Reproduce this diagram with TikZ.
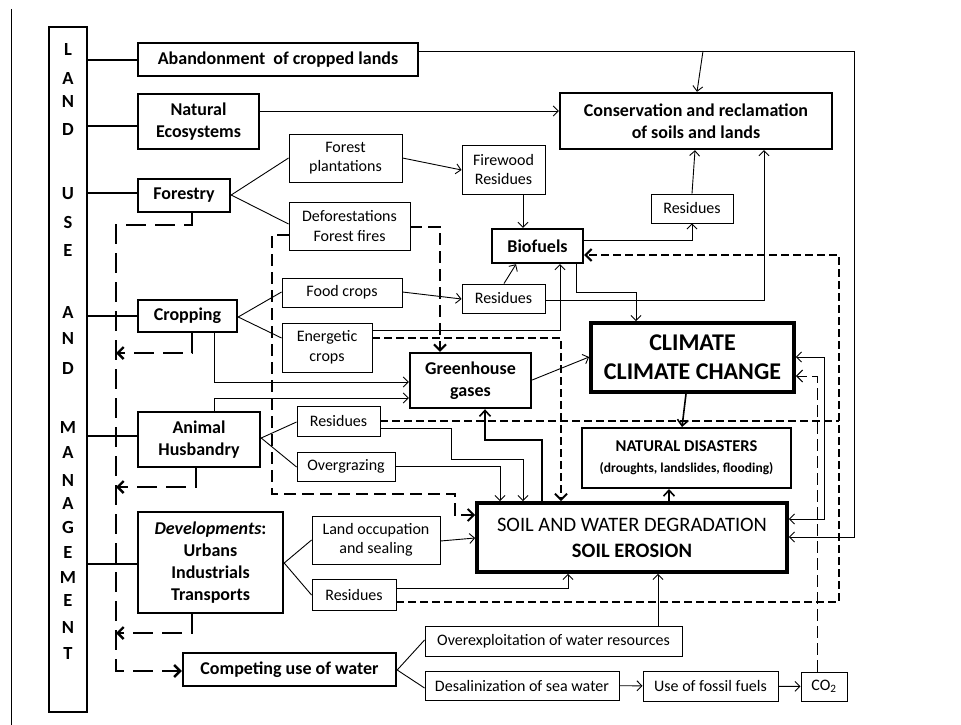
\documentclass[tikz,border=0pt]{standalone}
\usepackage{fontspec}
\setmainfont{Carlito}
\usetikzlibrary{arrows.meta}
\begin{document}
\begin{tikzpicture}[x=1pt,y=-1pt,
  corners/.style n args={4}{minimum width={(#3-#1)*1pt}, minimum height={(#4-#2)*1pt}, at={({(#1+#3)/2},{(#2+#4)/2})}, anchor=center},
  bx/.style={draw, line width=2.4pt, inner sep=0pt, align=center, font=\fontsize{18}{22}\selectfont\bfseries},
  sx/.style={draw, line width=0.9pt, inner sep=0pt, align=center, font=\fontsize{16}{19.5}\selectfont},
  ln/.style={line width=0.9pt},
  thk/.style={line width=2.4pt},
  ar/.style={ln, -{Straight Barb[length=5pt,width=10pt]}},
  arb/.style={ar, {Straight Barb[length=5pt,width=10pt]}-{Straight Barb[length=5pt,width=10pt]}},
  mar/.style={line width=1.6pt, -{Straight Barb[length=6pt,width=11pt]}},
  bigdash/.style={line width=2.4pt, dash pattern=on 20pt off 9pt},
  meddash/.style={line width=2pt, dash pattern=on 12pt off 6pt},
  smdash/.style={line width=2pt, dash pattern=on 8pt off 4pt},
  thindash/.style={line width=1pt, dash pattern=on 12pt off 5pt},
  dtip/.style={-{Straight Barb[length=6pt,width=12pt]}},
  letter/.style={font=\fontsize{18.5}{20}\selectfont\bfseries}
]
\useasboundingbox (0,0) rectangle (961,725);
% left frame line
\coordinate (ftop) at (11,9);
\coordinate (fbot) at (11,725);
\draw[line width=0.8pt] (ftop) -- (fbot);

% LAND USE AND MANAGEMENT
\node[draw, line width=2.8pt, inner sep=0pt, corners={49}{27}{87}{712}] (land) {};
\foreach \t/\yy [count=\i] in {L/50,A/79,N/102,D/130,U/194,S/222,E/250,A/312,N/338,D/368,M/427,A/452,N/480,A/503,G/527,E/552,M/577,E/600,N/627,T/653}
  \node[letter] (lt\i) at (68,\yy) {\t};

% bold boxes
\node[bx, corners={138}{43}{418}{76}] (aband) {Abandonment~ of cropped lands};
\node[bx, corners={138}{94}{259}{149}] (natec) {Natural\\Ecosystems};
\node[bx, corners={138}{179}{230}{212}] (forestry) {Forestry};
\node[bx, corners={138}{300}{237}{332}] (crop) {Cropping};
\node[bx, corners={138}{412}{260}{467}] (animal) {Animal\\Husbandry};
\node[bx, corners={138}{512}{283}{613}] (dev) {\textit{Developments}:\\Urbans\\Industrials\\Transports};
\node[bx, corners={183}{653}{396}{686}] (water) {Competing use of water};
\node[bx, corners={560}{93}{832}{149}] (cons) {Conservation and reclamation\\of soils and lands};
\node[bx, corners={492}{229}{583}{263}] (bio) {Biofuels};
\node[bx, corners={410}{353}{531}{408}] (ghg) {Greenhouse\\gases};
\node[bx, line width=3.8pt, corners={591}{323}{794}{392}, font=\fontsize{24}{29}\selectfont\bfseries] (clim) {CLIMATE\\CLIMATE CHANGE};
\node[bx, line width=3.8pt, corners={477}{503}{787}{572}, font=\fontsize{20.5}{26}\selectfont] (soil) {SOIL AND WATER DEGRADATION\\\textbf{SOIL EROSION}};
\node[bx, line width=2pt, corners={582}{428}{791}{488}, font=\fontsize{16.5}{21}\selectfont\bfseries] (nat) {NATURAL DISASTERS\\{\fontsize{13.5}{16}\selectfont (droughts, landslides, flooding)}};

% small boxes
\node[sx, corners={289}{134}{402}{182}] (fp) {Forest\\plantations};
\node[sx, corners={289}{202}{410}{250}] (defo) {Deforestations\\Forest fires};
\node[sx, corners={462}{145}{545}{194}] (fw) {Firewood\\Residues};
\node[sx, corners={282}{278}{402}{307}] (food) {Food crops};
\node[sx, corners={462}{284}{545}{313}] (resf) {Residues};
\node[sx, corners={282}{323}{372}{372}] (energ) {Energetic\\crops};
\node[sx, corners={651}{194}{733}{223}] (resb) {Residues};
\node[sx, corners={297}{406}{380}{436}] (resa) {Residues};
\node[sx, corners={297}{452}{395}{481}] (overg) {Overgrazing};
\node[sx, corners={312}{516}{440}{564}] (landocc) {Land occupation\\and sealing};
\node[sx, corners={312}{579}{396}{610}] (resd) {Residues};
\node[sx, corners={425}{626}{682}{656}] (overex) {Overexploitation of water resources};
\node[sx, corners={425}{671}{619}{700}] (desal) {Desalinization of sea water};
\node[sx, corners={643}{671}{778}{701}] (fossil) {Use of fossil fuels};
\node[sx, corners={801}{672}{847}{701}] (co2) {CO\textsubscript{2}};

% thick connectors from LAND box
\draw[thk] (land.east |- 0,60) -- (aband.west |- 0,60);
\draw[thk] (land.east |- 0,126) -- (natec.west |- 0,126);
\draw[thk] (land.east |- 0,193) -- (forestry.west |- 0,193);
\draw[thk] (land.east |- 0,316) -- (crop.west |- 0,316);
\draw[thk] (land.east |- 0,436) -- (animal.west |- 0,436);
\draw[thk] (land.east |- 0,564) -- (dev.west |- 0,564);

% branches
\draw[ln] (forestry.east |- 0,195) -- (fp.west |- 0,158);
\draw[ln] (forestry.east |- 0,195) -- (defo.west |- 0,224);
\draw[ln] (crop.east |- 0,317) -- (food.west |- 0,292);
\draw[ln] (crop.east |- 0,317) -- (energ.west |- 0,338);
\draw[ln] (animal.east |- 0,438) -- (resa.west |- 0,422);
\draw[ln] (animal.east |- 0,438) -- (overg.west |- 0,467);
\draw[ln] (dev.east |- 0,563) -- (landocc.west |- 0,540);
\draw[ln] (dev.east |- 0,563) -- (resd.west |- 0,595);
\draw[ln] (water.east |- 0,670) -- (overex.west |- 0,640);
\draw[ln] (water.east |- 0,670) -- (desal.west |- 0,688);

% thin arrows
\draw[ar] (fp.east |- 0,158) -- (fw.west |- 0,170);
\draw[ar] (fw.south -| 523,0) -- (bio.north -| 523,0);
\draw[ar] (food.east |- 0,292) -- (resf.west |- 0,299);
\draw[ar] (resf.north -| 504,0) -- (bio.south -| 516,0);
\draw[ar] (energ.east |- 0,330) -| (bio.south -| 560,0);
\draw[ar] (bio.south -| 576,0) |- (636,292) -- (clim.north -| 636,0);
\draw[ar] (bio.east |- 0,240) -| (resb.south -| 692,0);
\draw[ar] (resb.north -| 692,0) -- (cons.south -| 695,0);
\draw[ar] (resf.east |- 0,300) -| (cons.south -| 764,0);
\draw[ar] (natec.east |- 0,111) -- (cons.west |- 0,111);
\draw[ar] (aband.east |- 0,51) -- (854,51) -- (854,537) -- (soil.east |- 0,537);
\coordinate (abj) at (703,51);
\draw[ar] (abj) -- (cons.north -| 697,0);
\draw[ar] (ghg.east |- 0,380) -- (clim.west |- 0,357);
\draw[ar] (crop.south -| 214,0) |- (ghg.west |- 0,382);
\draw[ar] (animal.north -| 214,0) |- (ghg.west |- 0,398);
\draw[ar] (resa.east |- 0,428) -- (451,428) -- (451,459) -- (523,459) -- (soil.north -| 523,0);
\draw[ar] (overg.east |- 0,466) -| (soil.north -| 500,0);
\draw[mar] (soil.north -| 542,0) -- (542,440) -- (485,440) -- (ghg.south -| 485,0);
\draw[mar] (clim.south -| 686,0) -- (nat.north -| 682,0);
\draw[mar] (soil.north -| 669,0) -- (nat.south -| 669,0);
\draw[ar] (landocc.east |- 0,541) -- (soil.west |- 0,538);
\draw[ar] (resd.east |- 0,588) -| (soil.south -| 568,0);
\draw[ar] (overex.north -| 658,0) -- (soil.south -| 658,0);
\draw[ar] (desal) -- (fossil);
\draw[ar] (fossil) -- (co2);
\draw[arb] (clim.east |- 0,357) -- (824,357) -- (824,519) -- (soil.east |- 0,519);
\draw[thindash, dtip, line width=1pt] (co2.north -| 817,0) -- (817,376) -- (clim.east |- 0,376);

% thick dashed connectors (left)
\draw[bigdash, dtip] (forestry.south -| 192,0) -- (192,225) -- (116,225) -- (116,671) -- (water.west |- 0,671);
\coordinate (dl) at (116,353);
\draw[bigdash, dtip] (crop.south -| 192,0) |- (dl);
\coordinate (dl2) at (116,487);
\draw[bigdash, dtip] (animal.south -| 196,0) |- (dl2);
\coordinate (dl3) at (116,633);
\draw[bigdash, dtip] (dev.south -| 192,0) |- (dl3);

% medium dashed from deforestation
\draw[meddash, dtip] (defo.east |- 0,227) -| (ghg.north -| 440,0);
\draw[meddash, dtip] (defo.west |- 0,235) -- (272,235) -- (272,494) -- (455,494) -- (455,515) -- (soil.west |- 0,515);

% short dashed
\draw[smdash, dtip] (energ.east |- 0,338) -| (soil.north -| 561,0);
\draw[smdash] (resa.east |- 0,421) -- (839,421);
\draw[smdash, dtip] (resd.east |- 0,602) -- (839,602) -- (839,255) -- (bio.east |- 0,255);
\end{tikzpicture}
\end{document}
